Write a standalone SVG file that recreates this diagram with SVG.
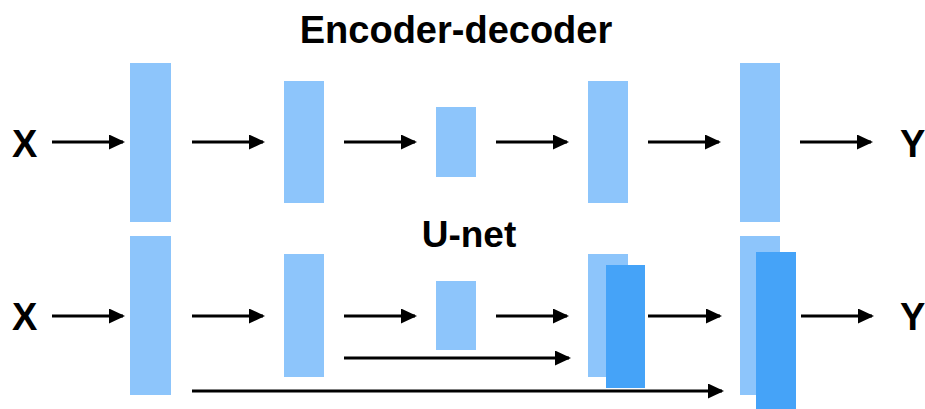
<svg xmlns="http://www.w3.org/2000/svg" width="925" height="409" viewBox="0 0 925 409">
  <style>
    .lbl { font-family: "Liberation Sans", Arial, sans-serif; font-weight: bold; fill: #000; }
    .layer { fill: #8DC5FB; }
    .skip { fill: #45A3F8; }
    .conn { stroke: #000; stroke-width: 3; fill: none; marker-end: url(#head); }
  </style>
  <defs>
    <marker id="head" markerUnits="userSpaceOnUse" markerWidth="17" markerHeight="16" refX="14" refY="7.5" orient="auto">
      <path d="M0,0 L16,7.5 L0,15 Z" fill="#000"/>
    </marker>
  </defs>
  <rect width="925" height="409" fill="#fff"/>

  <!-- titles -->
  <text class="lbl" x="456" y="43" font-size="38" text-anchor="middle">Encoder-decoder</text>
  <text class="lbl" x="469" y="247" font-size="37" text-anchor="middle">U-net</text>

  <!-- encoder-decoder row -->
  <g id="ed-x"><text class="lbl" x="12" y="157" font-size="38">X</text></g>
  <g id="ed-l1"><rect class="layer" x="130" y="63" width="41" height="159"/></g>
  <g id="ed-l2"><rect class="layer" x="284" y="81" width="40" height="122"/></g>
  <g id="ed-l3"><rect class="layer" x="436" y="107" width="40" height="70"/></g>
  <g id="ed-l4"><rect class="layer" x="588" y="81" width="40" height="122"/></g>
  <g id="ed-l5"><rect class="layer" x="740" y="63" width="40" height="159"/></g>
  <g id="ed-y"><text class="lbl" x="900" y="157" font-size="38">Y</text></g>

  <!-- u-net row -->
  <g id="un-x"><text class="lbl" x="12" y="330" font-size="38">X</text></g>
  <g id="un-l1"><rect class="layer" x="130" y="236" width="41" height="159"/></g>
  <g id="un-l2"><rect class="layer" x="284" y="254" width="40" height="123"/></g>
  <g id="un-l3"><rect class="layer" x="436" y="281" width="40" height="69"/></g>
  <g id="un-l4">
    <rect class="layer" x="588" y="254" width="40" height="123"/>
    <rect class="skip" x="606" y="265" width="39" height="123"/>
  </g>
  <g id="un-l5">
    <rect class="layer" x="740" y="236" width="40" height="159"/>
    <rect class="skip" x="756" y="252" width="40" height="157"/>
  </g>
  <g id="un-y"><text class="lbl" x="900" y="330" font-size="38">Y</text></g>

  <!-- connectors -->
  <g id="connectors">
    <line class="conn" x1="52" y1="142" x2="123" y2="142"/>
    <line class="conn" x1="192" y1="142" x2="263" y2="142"/>
    <line class="conn" x1="344" y1="142" x2="415" y2="142"/>
    <line class="conn" x1="496" y1="142" x2="567" y2="142"/>
    <line class="conn" x1="648" y1="142" x2="719" y2="142"/>
    <line class="conn" x1="800" y1="142" x2="871" y2="142"/>

    <line class="conn" x1="52" y1="316" x2="123" y2="316"/>
    <line class="conn" x1="192" y1="316" x2="263" y2="316"/>
    <line class="conn" x1="344" y1="316" x2="415" y2="316"/>
    <line class="conn" x1="496" y1="316" x2="567" y2="316"/>
    <line class="conn" x1="648" y1="316" x2="720" y2="316"/>
    <line class="conn" x1="801" y1="316" x2="872" y2="316"/>

    <line class="conn" x1="344" y1="358" x2="569" y2="358"/>
    <line class="conn" x1="192" y1="391" x2="722" y2="391"/>
  </g>
</svg>
